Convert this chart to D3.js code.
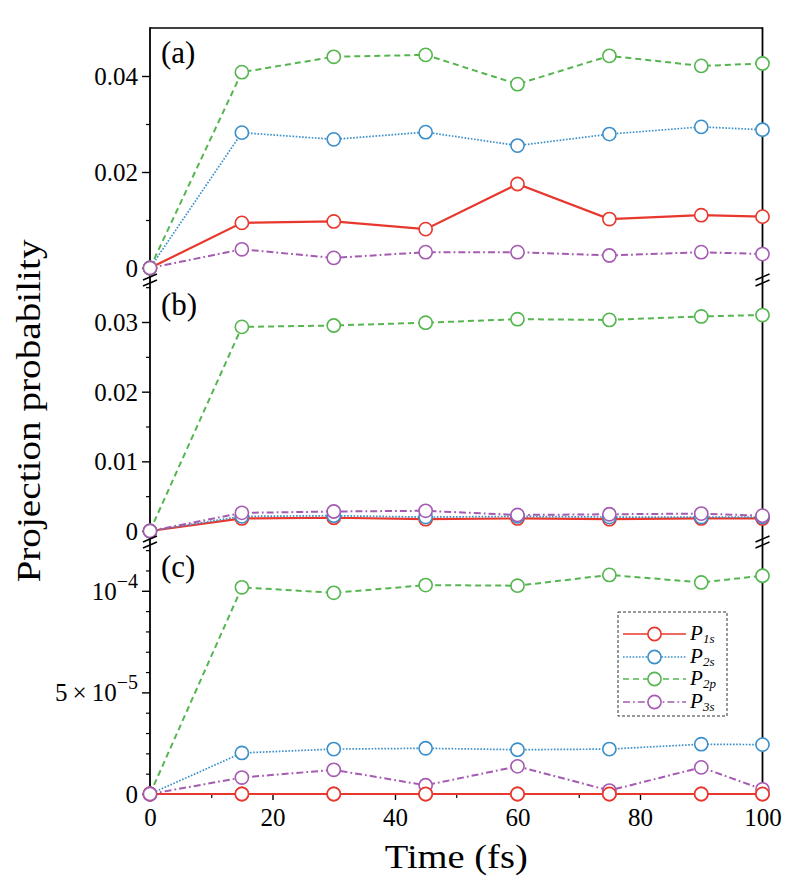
<!DOCTYPE html>
<html><head><meta charset="utf-8">
<script src="https://cdn.jsdelivr.net/npm/d3@7"></script>
<style>body{margin:0;background:#fff}svg{display:block}
text{font-family:'Liberation Serif','Times New Roman','DejaVu Serif',serif;}</style>
</head><body><svg id="c" width="793" height="883"></svg>
<script>
// ---------- data ----------
const times = [0, 15, 30, 45, 60, 75, 90, 100];
const seriesNames = ["1s", "2s", "2p", "3s"];

const panelA_P1s = [0, 0.0094, 0.0097, 0.0081, 0.0175, 0.0102, 0.0110, 0.0107];
const panelA_P2s = [0, 0.0282, 0.0268, 0.0283, 0.0255, 0.0279, 0.0294, 0.0288];
const panelA_P2p = [0, 0.0408, 0.0440, 0.0444, 0.0383, 0.0442, 0.0421, 0.0426];
const panelA_P3s = [0, 0.0039, 0.0021, 0.0033, 0.0033, 0.0026, 0.0033, 0.0029];

const panelB_P1s = [0, 0.0018, 0.0019, 0.0017, 0.0018, 0.0017, 0.0018, 0.0018];
const panelB_P2s = [0, 0.0021, 0.0022, 0.0020, 0.0021, 0.0020, 0.0020, 0.0020];
const panelB_P2p = [0, 0.0293, 0.0295, 0.0299, 0.0304, 0.0303, 0.0308, 0.0310];
const panelB_P3s = [0, 0.0026, 0.0028, 0.0029, 0.0023, 0.0024, 0.0025, 0.0022];

const panelC_P1s = [0, 0, 0, 0, 0, 0, 0, 0];
const panelC_P2s = [0, 2.02e-5, 2.21e-5, 2.25e-5, 2.18e-5, 2.21e-5, 2.45e-5, 2.43e-5];
const panelC_P2p = [0, 10.17e-5, 9.9e-5, 10.28e-5, 10.25e-5, 10.78e-5, 10.41e-5, 10.74e-5];
const panelC_P3s = [0, 0.81e-5, 1.19e-5, 0.43e-5, 1.36e-5, 0.17e-5, 1.31e-5, 0.23e-5];

const xTickValues = [0, 20, 40, 60, 80, 100];
const xMinorTicks = [10, 30, 50, 70, 90];

const panelA_ticks = [0, 0.02, 0.04];
const panelA_tickLabels = ["0", "0.02", "0.04"];
const panelA_minor = [0.01, 0.03];
const panelB_ticks = [0, 0.01, 0.02, 0.03];
const panelB_tickLabels = ["0", "0.01", "0.02", "0.03"];
const panelB_minor = [0.005, 0.015, 0.025, 0.035];
const panelC_ticks = [0, 5e-5, 1e-4];
const panelC_tickLabels = [["0", ""], ["5\u2009×\u200910", "−5"], ["10", "−4"]];
const panelC_minor = [1e-5, 2e-5, 3e-5, 4e-5, 6e-5, 7e-5, 8e-5, 9e-5, 1.1e-4, 1.2e-4];

// ---------- styles ----------
const colors = ["#e8372d", "#3a8fca", "#55b650", "#a45bb1"];
const dashes = [null, "1.6,1.6", "6,4", "7,3,1.8,3"];
const widths = [2.2, 1.7, 2.0, 2.0];
const R = 6.6;

const svg = d3.select("#c");
const X0 = 150, X1 = 762.5;
const x = d3.scaleLinear().domain([0, 100]).range([X0, X1]);

const panels = [
  {label: "(a)", domain: [-0.0025, 0.05], range: [280, 28],
   data: [panelA_P1s, panelA_P2s, panelA_P2p, panelA_P3s],
   ticks: panelA_ticks, labels: panelA_tickLabels, minor: panelA_minor},
  {label: "(b)", domain: [-0.00158, 0.03603], range: [542, 280],
   data: [panelB_P1s, panelB_P2s, panelB_P2p, panelB_P3s],
   ticks: panelB_ticks, labels: panelB_tickLabels, minor: panelB_minor},
  {label: "(c)", domain: [0, 1.24e-4], range: [794, 542],
   data: [panelC_P1s, panelC_P2s, panelC_P2p, panelC_P3s],
   ticks: panelC_ticks, labels: panelC_tickLabels, minor: panelC_minor}
];

// frame
svg.append("line").attr("x1", X0).attr("x2", X1).attr("y1", 28).attr("y2", 28)
  .attr("stroke", "#000").attr("stroke-width", 1.6);
svg.append("line").attr("x1", X0).attr("x2", X1).attr("y1", 794).attr("y2", 794)
  .attr("stroke", "#000").attr("stroke-width", 1.6);
svg.append("line").attr("x1", X0).attr("x2", X0).attr("y1", 27.2).attr("y2", 794.8)
  .attr("stroke", "#000").attr("stroke-width", 1.8);
svg.append("line").attr("x1", X1).attr("x2", X1).attr("y1", 27.2).attr("y2", 794.8)
  .attr("stroke", "#000").attr("stroke-width", 1.8);

panels.forEach((p, pi) => {
  const y = d3.scaleLinear().domain(p.domain).range(p.range);
  p.y = y;
  const ax = d3.axisLeft(y).tickValues(p.ticks).tickSize(8).tickPadding(5).tickFormat(() => "");
  const g = svg.append("g").attr("transform", `translate(${X0},0)`).call(ax);
  g.select(".domain").remove();
  g.attr("font-family", null).attr("font-size", null);
  g.selectAll(".tick line").attr("stroke-width", 1.4);
  g.selectAll(".tick").each(function(d, i) {
    const lab = p.labels[i];
    const t = d3.select(this).select("text")
      .attr("font-size", 25).attr("fill", "#000")
      .attr("x", -12).attr("dy", "0.34em").text(null);
    if (Array.isArray(lab)) {
      t.append("tspan").text(lab[0]);
      if (lab[1]) t.append("tspan").attr("font-size", 20).attr("dy", "-0.6em").text(lab[1]);
    } else {
      t.text(lab);
    }
  });
  const axm = d3.axisLeft(y).tickValues(p.minor).tickSize(4).tickFormat("");
  const gm = svg.append("g").attr("transform", `translate(${X0},0)`).call(axm);
  gm.select(".domain").remove();
  gm.selectAll(".tick line").attr("stroke-width", 1.2);

  svg.append("text").attr("x", 161).attr("y", p.range[1] + 35)
    .attr("font-size", 31).text(p.label);

  const line = d3.line().x((d, i) => x(times[i])).y(d => y(d));
  p.data.forEach((vals, si) => {
    const path = svg.append("path").datum(vals).attr("d", line)
      .attr("fill", "none").attr("stroke", colors[si]).attr("stroke-width", widths[si]);
    if (dashes[si]) path.attr("stroke-dasharray", dashes[si]);
  });
  p.data.forEach((vals, si) => {
    svg.append("g").selectAll("circle").data(vals).join("circle")
      .attr("cx", (d, i) => x(times[i])).attr("cy", d => y(d)).attr("r", R)
      .attr("fill", "#fff").attr("stroke", colors[si]).attr("stroke-width", 1.6);
  });
});

// axis breaks
[280, 542].forEach(yb => {
  [X0, X1].forEach(xb => {
    [-3, 3].forEach(off => {
      svg.append("line").attr("x1", xb - 7).attr("x2", xb + 7)
        .attr("y1", yb + off + 3).attr("y2", yb + off - 3)
        .attr("stroke", "#000").attr("stroke-width", 1.5);
    });
  });
});

// x axis
const xa = d3.axisBottom(x).tickValues(xTickValues).tickSize(6).tickPadding(8).tickFormat(d3.format("d"));
const gx = svg.append("g").attr("transform", "translate(0,794)").call(xa);
gx.attr("font-family", null).attr("font-size", null);
gx.select(".domain").remove();
gx.selectAll(".tick line").attr("stroke-width", 1.4);
gx.selectAll("text").attr("font-size", 25).attr("fill", "#000");
const xm = d3.axisBottom(x).tickValues(xMinorTicks).tickSize(4).tickFormat("");
const gxm = svg.append("g").attr("transform", "translate(0,794)").call(xm);
gxm.select(".domain").remove();
gxm.selectAll(".tick line").attr("stroke-width", 1.2);

// redraw panel c P1s on top of axis line
{
  const p = panels[2];
  const line = d3.line().x((d, i) => x(times[i])).y(d => p.y(d));
  svg.append("path").datum(panelC_P1s).attr("d", line).attr("fill", "none")
    .attr("stroke", colors[0]).attr("stroke-width", widths[0]);
  svg.append("g").selectAll("circle").data(panelC_P1s).join("circle")
    .attr("cx", (d, i) => x(times[i])).attr("cy", d => p.y(d)).attr("r", R)
    .attr("fill", "#fff").attr("stroke", colors[0]).attr("stroke-width", 1.6);
  svg.append("circle").attr("cx", x(0)).attr("cy", p.y(panelC_P3s[0])).attr("r", R)
    .attr("fill", "#fff").attr("stroke", colors[3]).attr("stroke-width", 1.6);
}

// axis titles
svg.append("text").attr("x", (X0 + X1) / 2).attr("y", 868).attr("text-anchor", "middle")
  .attr("font-size", 34)
  .attr("textLength", 143).attr("lengthAdjust", "spacingAndGlyphs").text("Time (fs)");
svg.append("text").attr("transform", "translate(40,411) rotate(-90)").attr("text-anchor", "middle")
  .attr("font-size", 34)
  .attr("textLength", 343).attr("lengthAdjust", "spacingAndGlyphs").text("Projection probability");

// legend
const lg = svg.append("g");
lg.append("rect").attr("x", 618).attr("y", 612).attr("width", 109).attr("height", 104)
  .attr("fill", "#fff").attr("stroke", "#333").attr("stroke-width", 1).attr("stroke-dasharray", "3,2");
const legendY = [634, 657, 679, 702];
seriesNames.forEach((n, i) => {
  const yy = legendY[i];
  const l = lg.append("line").attr("x1", 623).attr("x2", 686).attr("y1", yy).attr("y2", yy)
    .attr("stroke", colors[i]).attr("stroke-width", widths[i] * 0.75);
  if (dashes[i]) l.attr("stroke-dasharray", dashes[i]);
  lg.append("circle").attr("cx", 654.5).attr("cy", yy).attr("r", R)
    .attr("fill", "#fff").attr("stroke", colors[i]).attr("stroke-width", 1.6);
  lg.append("text").attr("x", 690).attr("y", yy + 6)
    .attr("font-size", 21).attr("font-style", "italic").text("P");
  lg.append("text").attr("x", 703).attr("y", yy + 9)
    .attr("font-size", 13).attr("font-style", "italic").text(n);
});
</script></body></html>
